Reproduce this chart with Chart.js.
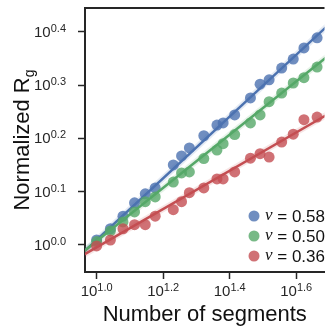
<!DOCTYPE html>
<html>
<head>
<meta charset="utf-8">
<script src="https://cdn.jsdelivr.net/npm/chart.js@4.4.1/dist/chart.umd.min.js"></script>
<style>
  html, body { margin: 0; padding: 0; background: #fff; overflow: hidden; }
</style>
</head>
<body>
<canvas id="chart" width="330" height="326"></canvas>
<script>
// number of segments (x) and normalized Rg per series (y)
const segments = [10, 11, 12, 13, 14, 15, 17, 18, 19, 21, 23, 24, 26, 29, 31, 33, 36, 39, 42, 46];
const rgNu058 = [1.021, 1.072, 1.132, 1.199, 1.247, 1.279, 1.413, 1.469, 1.521, 1.603, 1.679, 1.694, 1.754, 1.888, 2.004, 2.042, 2.148, 2.234, 2.344, 2.449];
const rgNu050 = [1.014, 1.062, 1.104, 1.153, 1.205, 1.230, 1.312, 1.365, 1.371, 1.452, 1.507, 1.549, 1.611, 1.694, 1.754, 1.858, 1.928, 2.014, 2.061, 2.158];
const rgNu036 = [0.995, 1.021, 1.072, 1.091, 1.091, 1.132, 1.164, 1.205, 1.253, 1.279, 1.330, 1.330, 1.371, 1.455, 1.483, 1.462, 1.560, 1.614, 1.718, 1.738];

// power-law fits: Rg = A * (N/10)^nu
const nuLabels = ['0.58', '0.50', '0.36'];
const fitNu = [0.58, 0.50, 0.36];
const fitA = [1.021, 1.016, 0.989];
const fitRange = [9, 52];

const xTickExps = ['1.0', '1.2', '1.4', '1.6'];
const yTickExps = ['0.0', '0.1', '0.2', '0.3', '0.4'];

const lineColors = ['#4c72b0', '#55a868', '#c44e52'];
const dotColors = ['rgba(76,114,176,0.8)', 'rgba(85,168,104,0.8)', 'rgba(196,78,82,0.8)'];
const bandColors = ['rgba(76,114,176,0.15)', 'rgba(85,168,104,0.15)', 'rgba(196,78,82,0.15)'];
const axisColor = '#262626';

const seriesValues = [rgNu058, rgNu050, rgNu036];

// seaborn draws blue, then green, then red on top; chart.js draws the first dataset last
const datasets = [];
for (let i = 2; i >= 0; i--) {
    const fit = fitRange.map(n => ({ x: n, y: fitA[i] * Math.pow(n / 10, fitNu[i]) }));
    datasets.push({
        type: 'line', data: fit, borderColor: lineColors[i], borderWidth: 2.5,
        pointRadius: 0, fill: false
    });
    datasets.push({
        type: 'line', data: fit, borderColor: bandColors[i], borderWidth: 6,
        pointRadius: 0, fill: false
    });
    datasets.push({
        type: 'scatter',
        data: segments.map((n, k) => ({ x: n, y: seriesValues[i][k] })),
        backgroundColor: dotColors[i], borderWidth: 0, pointRadius: 5.5
    });
}

function drawPow(ctx, x, y, exp, align, baseSize, supSize) {
    ctx.font = baseSize + 'px "Liberation Sans", Arial, sans-serif';
    const bw = ctx.measureText('10').width;
    ctx.font = supSize + 'px "Liberation Sans", Arial, sans-serif';
    const sw = ctx.measureText(exp).width;
    let left = align === 'right' ? x - bw - sw : x - (bw + sw) / 2;
    ctx.textAlign = 'left';
    ctx.textBaseline = 'alphabetic';
    ctx.font = baseSize + 'px "Liberation Sans", Arial, sans-serif';
    ctx.fillText('10', left, y);
    ctx.font = supSize + 'px "Liberation Sans", Arial, sans-serif';
    ctx.fillText(exp, left + bw, y - 5);
}

const labelsPlugin = {
    id: 'labels',
    afterDraw(chart) {
        const ctx = chart.ctx;
        const area = chart.chartArea;
        const xs = chart.scales.x, ys = chart.scales.y;
        ctx.save();
        // top frame line
        ctx.strokeStyle = axisColor;
        ctx.lineWidth = 2;
        ctx.beginPath();
        ctx.moveTo(area.left - 1, area.top);
        ctx.lineTo(area.right, area.top);
        ctx.stroke();

        ctx.fillStyle = axisColor;
        yTickExps.forEach(e => {
            const y = ys.getPixelForValue(Math.pow(10, +e));
            drawPow(ctx, 66, y + 5, e, 'right', 15, 11);
        });
        xTickExps.forEach(e => {
            const x = xs.getPixelForValue(Math.pow(10, +e));
            drawPow(ctx, x, 296, e, 'center', 15, 11);
        });

        // axis titles
        ctx.fillStyle = '#111';
        ctx.font = '22px "Liberation Sans", Arial, sans-serif';
        ctx.textAlign = 'center';
        ctx.textBaseline = 'alphabetic';
        ctx.fillText('Number of segments', (area.left + area.right) / 2, 321);

        ctx.save();
        ctx.translate(29, (area.top + area.bottom) / 2);
        ctx.rotate(-Math.PI / 2);
        const mainW = ctx.measureText('Normalized R').width;
        ctx.font = '14px "Liberation Sans", Arial, sans-serif';
        const subW = ctx.measureText('g').width;
        const start = -(mainW + subW) / 2;
        ctx.textAlign = 'left';
        ctx.font = '22px "Liberation Sans", Arial, sans-serif';
        ctx.fillText('Normalized R', start, 0);
        ctx.font = '14px "Liberation Sans", Arial, sans-serif';
        ctx.fillText('g', start + mainW, 5);
        ctx.restore();

        // legend
        nuLabels.forEach((lab, i) => {
            const y = 216 + i * 20;
            ctx.fillStyle = dotColors[i];
            ctx.beginPath();
            ctx.arc(254, y, 5.5, 0, Math.PI * 2);
            ctx.fill();
            ctx.fillStyle = '#111';
            ctx.textAlign = 'left';
            ctx.textBaseline = 'middle';
            ctx.font = 'italic 17px "Liberation Serif", "Times New Roman", serif';
            ctx.fillText('\u03bd', 265, y);
            const nw = ctx.measureText('\u03bd').width;
            ctx.font = '17px "Liberation Sans", Arial, sans-serif';
            ctx.fillText(' = ' + lab, 265 + nw, y + 1);
        });
        ctx.restore();
    }
};

const axisBase = {
    type: 'logarithmic',
    grid: { drawOnChartArea: false, drawTicks: true, tickLength: 7, tickWidth: 1.5, tickColor: axisColor },
    border: { display: true, color: axisColor, width: 2 },
    ticks: { display: false }
};

new Chart(document.getElementById('chart'), {
    type: 'scatter',
    data: { datasets: datasets },
    options: {
        responsive: false,
        animation: false,
        devicePixelRatio: 1,
        layout: { padding: { top: 8, right: 0, left: 0, bottom: 0 } },
        plugins: { legend: { display: false }, tooltip: { enabled: false } },
        scales: {
            x: Object.assign({}, axisBase, {
                position: 'bottom',
                min: 9.226, max: 48.42,
                afterBuildTicks: s => { s.ticks = xTickExps.map(e => ({ value: Math.pow(10, +e) })); },
                afterFit: s => { s.height = 54; }
            }),
            y: Object.assign({}, axisBase, {
                position: 'left',
                min: 0.889, max: 2.786,
                afterBuildTicks: s => { s.ticks = yTickExps.map(e => ({ value: Math.pow(10, +e) })); },
                afterFit: s => { s.width = 85; }
            })
        }
    },
    plugins: [labelsPlugin]
});
</script>
</body>
</html>
